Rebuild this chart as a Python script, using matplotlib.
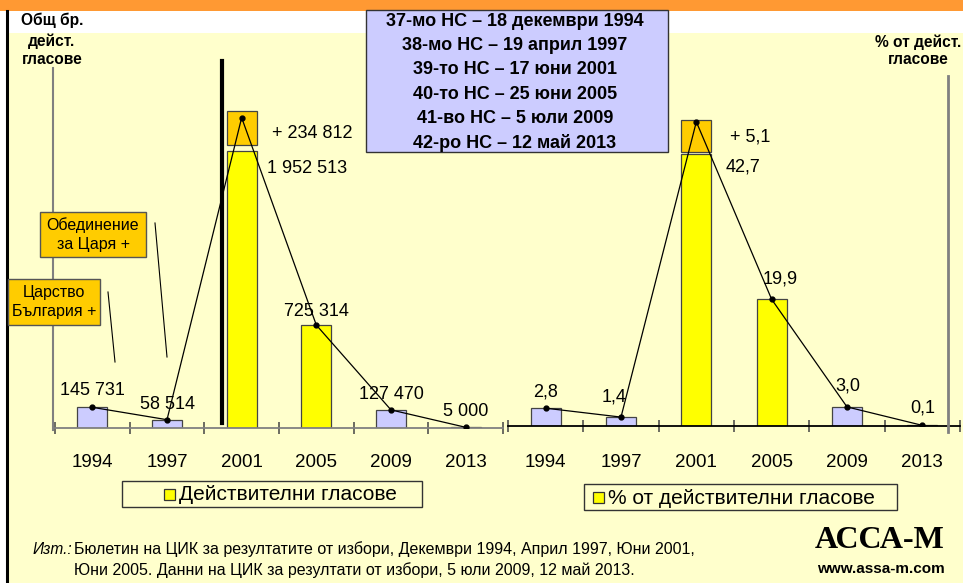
import matplotlib
matplotlib.use("Agg")
import numpy as np
import matplotlib.pyplot as plt
from matplotlib.patches import Rectangle
from matplotlib.lines import Line2D

# data
years = ["1994", "1997", "2001", "2005", "2009", "2013"]
votes = [145731, 58514, 1952513, 725314, 127470, 5000]
votes_bonus = [0, 0, 234812, 0, 0, 0]
pct = [2.8, 1.4, 42.7, 19.9, 3.0, 0.1]
pct_bonus = [0, 0, 5.1, 0, 0, 0]
ndsv_list = [False, False, True, True, False, False]
elections = [
    "37-мо НС – 18 декември 1994",
    "38-мо НС – 19 април 1997",
    "39-то НС – 17 юни 2001",
    "40-то НС – 25 юни 2005",
    "41-во НС – 5 юли 2009",
    "42-ро НС – 12 май 2013",
]

W, H = 963, 583
BG = "#FFFFCC"
LAV = "#CCCCFF"
YEL = "#FFFF00"
ORA = "#FFCC00"
EDGE = "#444444"
FONT = "Liberation Sans"

# label offsets (pixels) for the value labels above each point
left_offsets = [(0, 17), (0, 15), None, (0, 14), (0, 15), (0, 16)]
right_offsets = [(0, 16), (-7, 20), None, (9, 20), (1, 21), (0, 17)]


def fx(x):
    return x / W


def fy(y):
    return 1 - y / H


fig = plt.figure(figsize=(W / 100, H / 100), dpi=100, facecolor=BG)

# frame decorations
fig.add_artist(Rectangle((0, fy(33)), 1, 22 / H, transform=fig.transFigure,
                         facecolor="white", edgecolor="none", zorder=0))
fig.add_artist(Rectangle((0, fy(11)), 1, 11 / H, transform=fig.transFigure,
                         facecolor="#FF9933", edgecolor="none", zorder=0))
fig.add_artist(Rectangle((0, 0), 6 / W, fy(11), transform=fig.transFigure,
                         facecolor="white", edgecolor="none", zorder=0))
fig.add_artist(Line2D([fx(7), fx(7)], [0, fy(11)], color="black", lw=2.2))


def fmt_votes(v):
    return f"{int(v):,}".replace(",", " ")


def fmt_pct(v):
    return f"{v:.1f}".replace(".", ",")


def draw_panel(ax, vals, bonus, fmt, gap, ymax, base_color, big_off, bonus_off,
               offsets, pad):
    x = np.arange(len(years))
    vals = np.array(vals, dtype=float)
    bonus = np.array(bonus, dtype=float)
    colors = [YEL if n else LAV for n in ndsv_list]
    ax.bar(x, vals, width=0.4, color=colors, edgecolor=EDGE, lw=0.9, zorder=2)
    has = bonus > 0
    ax.bar(x[has], bonus[has], bottom=vals[has] + gap, width=0.4,
           color=ORA, edgecolor=EDGE, lw=0.9, zorder=2)
    totals = vals + bonus
    ax.plot(x, totals, color="black", lw=0.9, marker="o", ms=3.5, zorder=3)

    for i in range(len(x)):
        if has[i]:
            ax.annotate(fmt(vals[i]), (x[i], vals[i]), xytext=big_off,
                        textcoords="offset pixels", ha="left", va="center",
                        fontsize=13, family=FONT, zorder=4)
            ax.annotate("+ " + fmt(bonus[i]), (x[i], totals[i]), xytext=bonus_off,
                        textcoords="offset pixels", ha="left", va="center",
                        fontsize=13, family=FONT, zorder=4)
        else:
            ax.annotate(fmt(vals[i]), (x[i], totals[i]), xytext=offsets[i],
                        textcoords="offset pixels", ha="center", va="center",
                        fontsize=13, family=FONT, zorder=4)

    ax.set_xlim(-0.5, len(x) - 0.5)
    ax.set_ylim(0, ymax)
    ax.set_facecolor("none")
    for s in ["top", "right", "left"]:
        ax.spines[s].set_visible(False)
    ax.spines["bottom"].set_color(base_color)
    ax.spines["bottom"].set_linewidth(1.3)
    ax.set_yticks([])
    ax.set_xticks(x, years)
    ax.set_xticks(np.arange(-0.5, len(x), 1), minor=True)
    ax.tick_params(axis="x", which="major", length=0, pad=pad, labelsize=13.5)
    ax.tick_params(axis="x", which="minor", length=9, width=1.1,
                   direction="inout", color="#444444")
    for lab in ax.get_xticklabels():
        lab.set_family(FONT)


# left panel: absolute votes
axL = fig.add_axes([fx(55), fy(428), 448 / W, 360 / H])
draw_panel(axL, votes, votes_bonus, fmt_votes, 45000, 2537640,
           "#808080", (25, -17), (30, -16), left_offsets, 19)

# right panel: share of valid votes
axR = fig.add_axes([fx(508), fy(426), 452 / W, 350 / H])
draw_panel(axR, pct, pct_bonus, fmt_pct, 0.3, 55, "black", (29, -13), (34, -15),
           right_offsets, 20.5)

# separator before 2001 on the left panel
axL.axvline(1.74, ymin=0.014, ymax=1.02, color="black", lw=3, clip_on=False, zorder=5)

# value axes drawn as plain lines
fig.add_artist(Line2D([fx(53), fx(53)], [fy(430), fy(68)], color="#808080", lw=1.5))
fig.add_artist(Line2D([fx(948), fx(948)], [fy(432), fy(76)], color="#808080", lw=2))

# axis titles
for txt, y in [("Общ бр.", 20), ("дейст.", 41), ("гласове", 60)]:
    fig.text(fx(52), fy(y), txt, ha="center", va="center", fontsize=11.2,
             fontweight="bold", family=FONT)
for txt, y in [("% от дейст.", 42), ("гласове", 60)]:
    fig.text(fx(918), fy(y), txt, ha="center", va="center", fontsize=11.2,
             fontweight="bold", family=FONT)

# election dates box
fig.add_artist(Rectangle((fx(366), fy(152)), 302 / W, 142 / H, transform=fig.transFigure,
                         facecolor=LAV, edgecolor="#333333", lw=1, zorder=6))
for i, txt in enumerate(elections):
    fig.text(fx(515), fy(21 + i * 24.4), txt, ha="center", va="center",
             fontsize=13, fontweight="bold", family=FONT, zorder=7)

# coalition callouts
callouts = [
    ("Обединение\nза Царя +", 40, 212, 106, 45, (155, 223), (167, 357)),
    ("Царство\nБългария +", 8, 279, 92, 46, (108, 292), (115, 362)),
]
for txt, x0, y0, w, h, p1, p2 in callouts:
    fig.add_artist(Rectangle((fx(x0), fy(y0 + h)), w / W, h / H, transform=fig.transFigure,
                             facecolor=ORA, edgecolor="#555555", lw=1, zorder=6))
    fig.text(fx(x0 + w / 2), fy(y0 + h / 2), txt, ha="center", va="center",
             fontsize=11.5, family=FONT, linespacing=1.3, zorder=7)
    fig.add_artist(Line2D([fx(p1[0]), fx(p2[0])], [fy(p1[1]), fy(p2[1])],
                          color="black", lw=0.8))

# legends: text, box x, box y, box w, marker x
legends = [
    ("Действителни гласове", 122, 481, 300, 164),
    ("% от действителни гласове", 584, 484, 313, 593),
]
for txt, x0, y0, w, mx in legends:
    h = 26
    fig.add_artist(Rectangle((fx(x0), fy(y0 + h)), w / W, h / H, transform=fig.transFigure,
                             facecolor=BG, edgecolor="#333333", lw=1))
    fig.add_artist(Rectangle((fx(mx), fy(y0 + 19)), 11 / W, 11 / H,
                             transform=fig.transFigure, facecolor=YEL,
                             edgecolor="#333333", lw=0.9))
    fig.text(fx(mx + 15), fy(y0 + h / 2 + 1), txt, ha="left",
             va="center", fontsize=15, family=FONT)

# source
fig.text(fx(33), fy(549), "Изт.:", ha="left", va="center", fontsize=11.2,
         style="italic", family=FONT)
fig.text(fx(74), fy(549),
         "Бюлетин на ЦИК за резултатите от избори, Декември 1994, Април 1997, Юни 2001,",
         ha="left", va="center", fontsize=11.5, family=FONT)
fig.text(fx(74), fy(570),
         "Юни 2005. Данни на ЦИК за резултати от избори, 5 юли 2009, 12 май 2013.",
         ha="left", va="center", fontsize=11.5, family=FONT)

# brand
fig.text(fx(880), fy(540), "АССА-М", ha="center", va="center", fontsize=23,
         fontweight="bold", family="Liberation Serif")
fig.text(fx(881), fy(569), "www.assa-m.com", ha="center", va="center", fontsize=11,
         fontweight="bold", family=FONT)

fig.savefig("out.png", dpi=100, facecolor=BG)
